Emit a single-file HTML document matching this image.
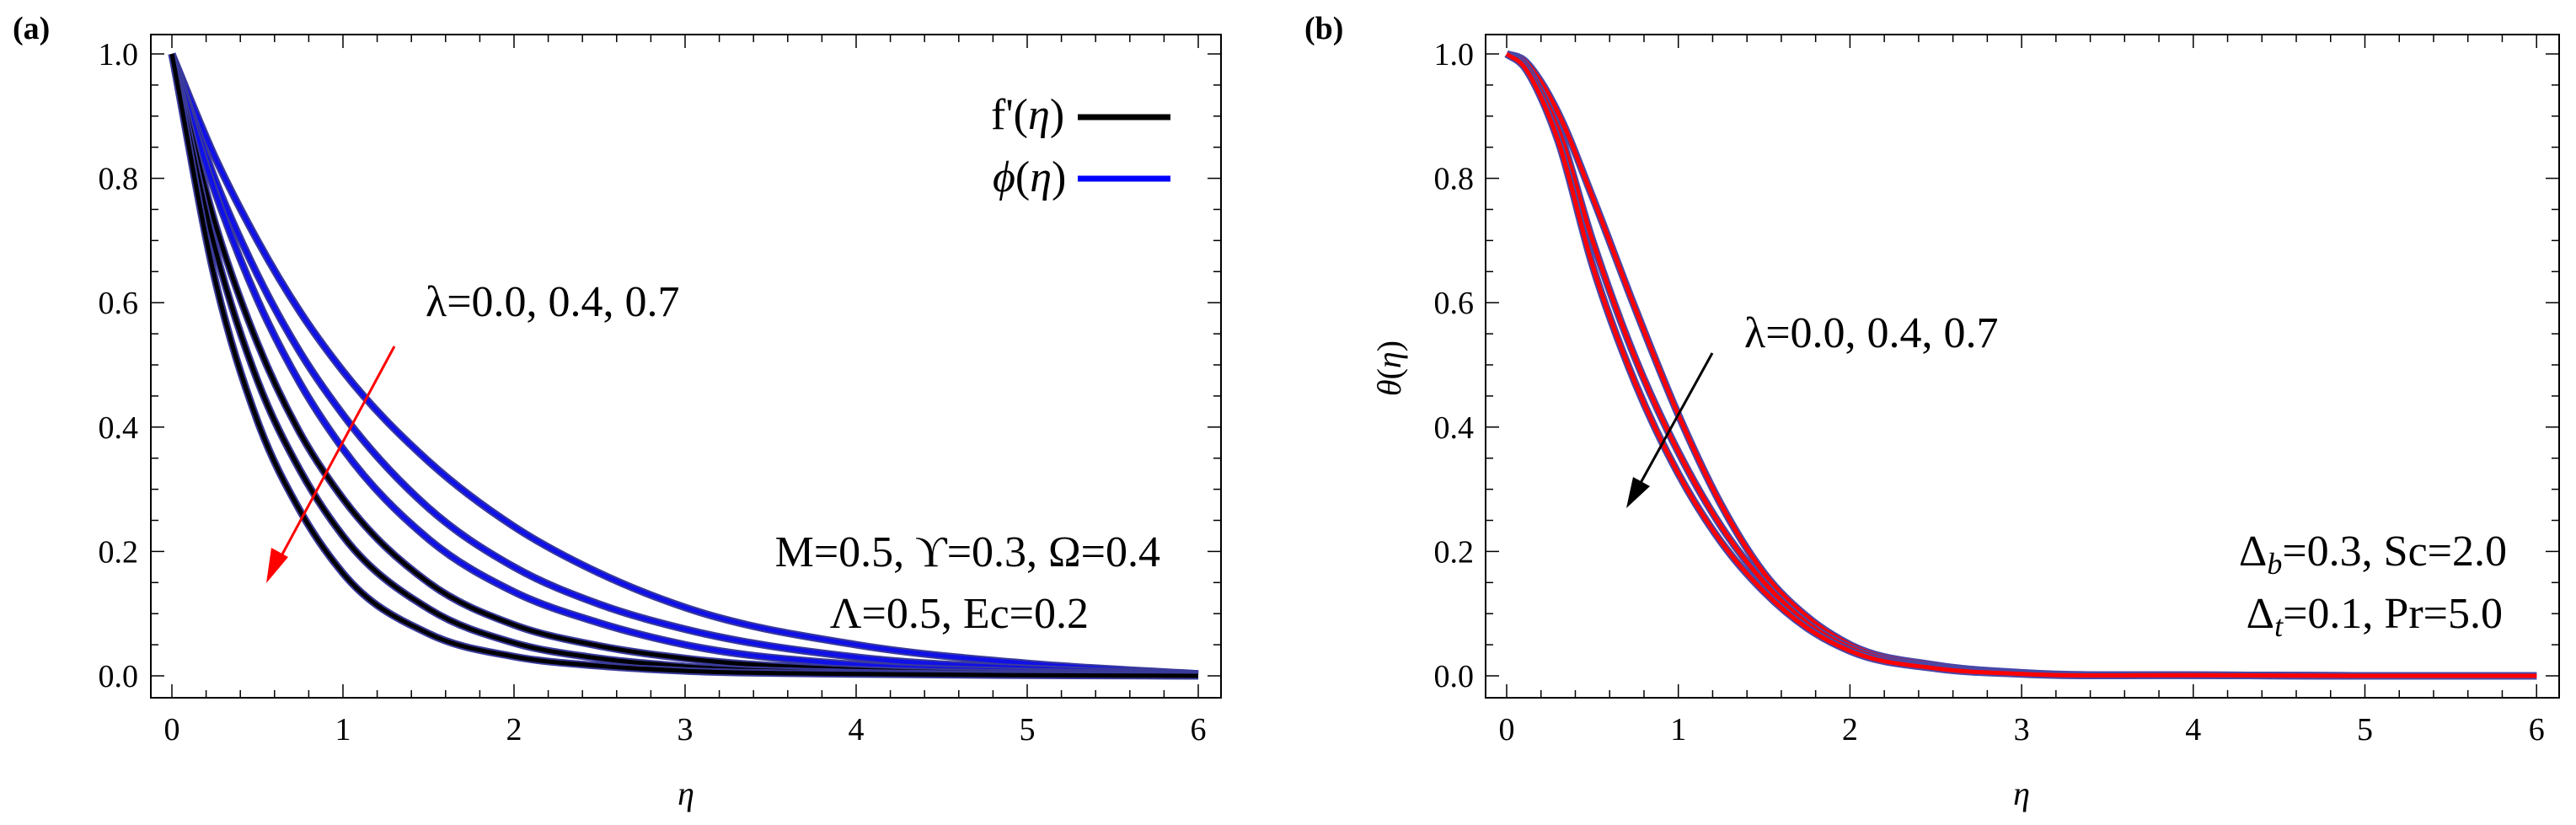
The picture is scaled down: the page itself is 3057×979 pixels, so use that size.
<!DOCTYPE html>
<html><head><meta charset="utf-8"><style>
html,body{margin:0;padding:0;background:#fff}
svg{display:block}
text{font-family:"Liberation Serif",serif;fill:#000}
</style></head><body>
<svg id="chart" width="3057" height="979" viewBox="0 0 3057 979" xmlns="http://www.w3.org/2000/svg">
<text x="15" y="46" font-size="38" font-weight="bold">(a)</text>
<text x="1548" y="46" font-size="38" font-weight="bold">(b)</text>
<g id="pa"></g>
<g id="pb"></g>
<text x="1176" y="153" font-size="52">f'(<tspan font-style="italic">η</tspan>)</text>
<line x1="1279" y1="139" x2="1389" y2="139" stroke="#000" stroke-width="7"/>
<text x="1178" y="227" font-size="52" font-style="italic">ϕ<tspan font-style="normal">(</tspan>η<tspan font-style="normal">)</tspan></text>
<line x1="1279" y1="212" x2="1389" y2="212" stroke="#0000ff" stroke-width="7"/>
<text x="505" y="375" font-size="52">λ=0.0, 0.4, 0.7</text>
<text x="1377" y="672" font-size="52" text-anchor="end">M=0.5, ϒ=0.3, Ω=0.4</text>
<text x="1292" y="745" font-size="52" text-anchor="end">Λ=0.5, Ec=0.2</text>
<line x1="468" y1="411" x2="330" y2="667" stroke="#ff0000" stroke-width="3"/>
<polygon points="316,692 322,650 342,661" fill="#ff0000"/>
<text x="814" y="955" font-size="40" font-style="italic" text-anchor="middle">η</text>
<text x="2070" y="412" font-size="52">λ=0.0, 0.4, 0.7</text>
<text x="2975" y="671" font-size="52" text-anchor="end">Δ<tspan font-style="italic" font-size="36" dy="10">b</tspan><tspan dy="-10">=0.3, Sc=2.0</tspan></text>
<text x="2970" y="745" font-size="52" text-anchor="end">Δ<tspan font-style="italic" font-size="36" dy="10">t</tspan><tspan dy="-10">=0.1, Pr=5.0</tspan></text>
<line x1="2032" y1="419" x2="1942" y2="582" stroke="#000" stroke-width="3"/>
<polygon points="1930,603 1938,566 1958,577" fill="#000"/>
<text x="2399" y="955" font-size="40" font-style="italic" text-anchor="middle">η</text>
<text x="1650" y="437" font-size="40" font-style="italic" text-anchor="middle" transform="rotate(-90 1650 437)" dy="12">θ<tspan font-style="normal">(</tspan>η<tspan font-style="normal">)</tspan></text>
</svg>
<script>
const etaA = [0,0.25,0.5,0.75,1,1.5,2,2.5,3,4,5,6];
const phiL0 = [1,0.835,0.70,0.585,0.49,0.345,0.24,0.165,0.11,0.05,0.02,0.003];
const phiL4 = [1,0.80,0.645,0.52,0.42,0.27,0.175,0.115,0.075,0.03,0.012,0.003];
const phiL7 = [1,0.78,0.605,0.47,0.365,0.22,0.135,0.085,0.05,0.018,0.007,0.002];
const fpL0 = [1,0.73,0.535,0.39,0.285,0.15,0.082,0.048,0.028,0.01,0.004,0.001];
const fpL4 = [1,0.69,0.475,0.33,0.225,0.108,0.053,0.028,0.015,0.005,0.002,0];
const fpL7 = [1,0.64,0.41,0.265,0.165,0.068,0.031,0.016,0.008,0.003,0.001,0];
const etaB = [0,0.1,0.2,0.3,0.5,0.75,1,1.25,1.5,1.75,2,2.5,3,4,5,6];
const thL0 = [1,0.99,0.955,0.905,0.77,0.59,0.42,0.275,0.165,0.095,0.05,0.017,0.005,0.001,0,0];
const thL4 = [1,0.985,0.94,0.88,0.70,0.51,0.36,0.24,0.15,0.085,0.045,0.014,0.004,0.001,0,0];
const thL7 = [1,0.98,0.93,0.86,0.66,0.47,0.325,0.215,0.135,0.077,0.04,0.012,0.003,0.001,0,0];
const xTicks = [0,1,2,3,4,5,6];
const yTicks = ["0.0","0.2","0.4","0.6","0.8","1.0"];

const NS="http://www.w3.org/2000/svg";
function mk(tag,attrs,parent){const e=document.createElementNS(NS,tag);for(const k in attrs)e.setAttribute(k,attrs[k]);parent.appendChild(e);return e;}
function makePanel(g,cfg){
  const X=v=>cfg.x0+v*cfg.xs, Y=v=>cfg.y0-v*cfg.ys;
  const fr=mk('rect',{x:cfg.L,y:cfg.T,width:cfg.R-cfg.L,height:cfg.B-cfg.T,fill:'none',stroke:'#000','stroke-width':2},g);
  
  
  for(let i=0;i<=30;i++){const v=i*0.2,x=X(v),len=(i%5===0)?16:9;
    const t1=mk('line',{x1:x,y1:cfg.B,x2:x,y2:cfg.B-len,stroke:'#000','stroke-width':1.5},g);
    
    
    const t2=mk('line',{x1:x,y1:cfg.T,x2:x,y2:cfg.T+len,stroke:'#000','stroke-width':1.5},g);
    
    }
  for(let i=0;i<=20;i++){const v=i*0.05,y=Y(v),len=(i%4===0)?16:9;
    const t1=mk('line',{x1:cfg.L,y1:y,x2:cfg.L+len,y2:y,stroke:'#000','stroke-width':1.5},g);
    
    
    const t2=mk('line',{x1:cfg.R,y1:y,x2:cfg.R-len,y2:y,stroke:'#000','stroke-width':1.5},g);
    
    }
  xTicks.forEach(v=>{const t=mk('text',{x:X(v),y:878,'font-size':38,'text-anchor':'middle'},g);t.textContent=v;
    
    });
  yTicks.forEach(s=>{const t=mk('text',{x:cfg.lblR,y:Y(parseFloat(s))+13,'font-size':38,'text-anchor':'end'},g);t.textContent=s;
    
    });
  return {X,Y};
}
// cubic Hermite, non-uniform spacing, weighted-secant (parabolic) slopes
function pathD(xs,ys,X,Y){
  const n=xs.length, P=xs.map((x,i)=>[X(x),Y(ys[i])]);
  const d=[],m=new Array(n);
  for(let i=0;i<n-1;i++)d.push((P[i+1][1]-P[i][1])/(P[i+1][0]-P[i][0]));
  m[0]=d[0];m[n-1]=d[n-2];
  for(let i=1;i<n-1;i++){const h0=P[i][0]-P[i-1][0],h1=P[i+1][0]-P[i][0];
    m[i]=(d[i-1]*h1+d[i]*h0)/(h0+h1);}
  let s='M'+P[0][0]+','+P[0][1];
  for(let i=0;i<n-1;i++){const h=P[i+1][0]-P[i][0];
    s+=' C'+(P[i][0]+h/3)+','+(P[i][1]+m[i]*h/3)+' '+(P[i+1][0]-h/3)+','+(P[i+1][1]-m[i+1]*h/3)+' '+P[i+1][0]+','+P[i+1][1];}
  return s;
}
function curve(g,xs,ys,ax,edge,col,name){
  const d=pathD(xs,ys,ax.X,ax.Y);
  const e=mk('path',{d:d,fill:'none',stroke:edge,'stroke-width':9,'stroke-linejoin':'round'},g);
  
  
  const p=mk('path',{d:d,fill:'none',stroke:col,'stroke-width':5,'stroke-linejoin':'round'},g);
  
  
}
const ga=document.getElementById('pa'), gb=document.getElementById('pb');
const A=makePanel(ga,{L:179,R:1449,T:41,B:828,x0:204,xs:203,y0:802,ys:738,lblR:164});
const B=makePanel(gb,{L:1763,R:3037,T:41,B:828,x0:1788,xs:203.7,y0:802,ys:738,lblR:1749});
curve(ga,etaA,phiL0,A,'#3a3a9a','#1010e8','phi-lambda-0.0');
curve(ga,etaA,phiL4,A,'#3a3a9a','#1010e8','phi-lambda-0.4');
curve(ga,etaA,phiL7,A,'#3a3a9a','#1010e8','phi-lambda-0.7');
curve(ga,etaA,fpL0,A,'#3a3a9a','#000','fprime-lambda-0.0');
curve(ga,etaA,fpL4,A,'#3a3a9a','#000','fprime-lambda-0.4');
curve(ga,etaA,fpL7,A,'#3a3a9a','#000','fprime-lambda-0.7');
curve(gb,etaB,thL0,B,'#4848a8','#ff0000','theta-lambda-0.0');
curve(gb,etaB,thL4,B,'#4848a8','#ff0000','theta-lambda-0.4');
curve(gb,etaB,thL7,B,'#4848a8','#ff0000','theta-lambda-0.7');
</script>
</body></html>
